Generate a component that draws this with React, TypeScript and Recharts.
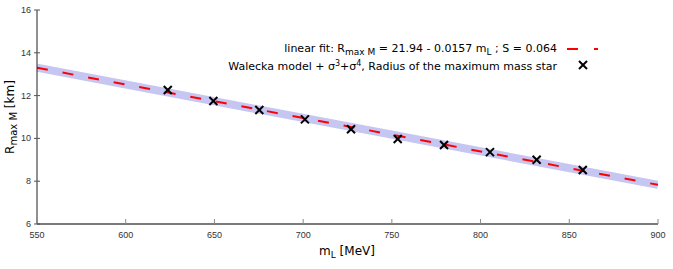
import React from "react";
import { ComposedChart, XAxis, YAxis, Line, Scatter } from "recharts";

const xTicks = [550, 600, 650, 700, 750, 800, 850, 900];
const yTicks = [6, 8, 10, 12, 14, 16];

const massL = [623.7, 649.4, 675.3, 701, 727, 753.3, 779.4, 805.3, 831.6, 857.6];
const radius = [12.26, 11.75, 11.33, 10.89, 10.43, 9.97, 9.69, 9.36, 9.0, 8.52];

const fitX = [550, 900];
const fitY = [13.3, 7.83];

const points = massL.map((x, i) => ({ x, y: radius[i] }));
const fitLine = fitX.map((x, i) => ({ x, y: fitY[i] }));

const FONT = "'DejaVu Sans', sans-serif";
const TICK_FONT = "'Liberation Sans', sans-serif";

const BottomTick = (p: any) => {
  const { x, y, payload } = p;
  return (
    <g>
      <line x1={x} x2={x} y1={y} y2={y - 5} stroke="#888" strokeWidth={1} />
      <text x={x} y={y + 14} textAnchor="middle" fontSize={9} fontFamily={TICK_FONT} fill="#333">
        {payload.value}
      </text>
    </g>
  );
};

const TopTick = (p: any) => {
  const { x, y } = p;
  return <line x1={x} x2={x} y1={y} y2={y + 5} stroke="#888" strokeWidth={1} />;
};

const LeftTick = (p: any) => {
  const { x, y, payload } = p;
  return (
    <g>
      <line x1={x - 3} x2={x + 3} y1={y} y2={y} stroke="#555" strokeWidth={1} />
      <text x={x - 6} y={y + 3} textAnchor="end" fontSize={9} fontFamily={TICK_FONT} fill="#333">
        {payload.value}
      </text>
    </g>
  );
};

const RightTick = (p: any) => {
  const { x, y } = p;
  return <line x1={x} x2={x - 5} y1={y} y2={y} stroke="#888" strokeWidth={1} />;
};

const XMark = (p: any) => {
  const { cx, cy } = p;
  const s = 4;
  return (
    <g stroke="#000" strokeWidth={2}>
      <line x1={cx - s} y1={cy - s} x2={cx + s} y2={cy + s} />
      <line x1={cx - s} y1={cy + s} x2={cx + s} y2={cy - s} />
    </g>
  );
};

export default function App() {
  return (
    <div style={{ position: "absolute", left: 0, top: 0, width: 673, height: 269, background: "#fff" }}>
      <ComposedChart width={673} height={269} margin={{ top: 10, right: 15, bottom: 0, left: 0 }}>
        <XAxis
          xAxisId="b"
          dataKey="x"
          type="number"
          domain={[550, 900]}
          ticks={xTicks}
          interval={0}
          allowDataOverflow
          height={45}
          tickSize={0}
          tickMargin={0}
          tickLine={false}
          tick={<BottomTick />}
          axisLine={{ stroke: "#7a7a7a", strokeWidth: 2 }}
        />
        <XAxis
          xAxisId="t"
          orientation="top"
          dataKey="x"
          type="number"
          domain={[550, 900]}
          ticks={xTicks}
          interval={0}
          allowDataOverflow
          height={0}
          tickSize={0}
          tickMargin={0}
          tickLine={false}
          tick={<TopTick />}
          axisLine={{ stroke: "#111", strokeWidth: 1 }}
        />
        <YAxis
          yAxisId="l"
          type="number"
          domain={[6, 16]}
          ticks={yTicks}
          interval={0}
          allowDataOverflow
          width={37}
          tickSize={0}
          tickMargin={0}
          tickLine={false}
          tick={<LeftTick />}
          axisLine={{ stroke: "#222", strokeWidth: 1 }}
        />
        <YAxis
          yAxisId="r"
          orientation="right"
          type="number"
          domain={[6, 16]}
          ticks={yTicks}
          interval={0}
          allowDataOverflow
          width={0}
          tickSize={0}
          tickMargin={0}
          tickLine={false}
          tick={<RightTick />}
          axisLine={{ stroke: "#7a7a7a", strokeWidth: 2 }}
        />
        <Line
          xAxisId="b"
          yAxisId="l"
          data={fitLine}
          dataKey="y"
          stroke="#c6c6f3"
          strokeWidth={8}
          dot={false}
          activeDot={false}
          isAnimationActive={false}
        />
        <Line
          xAxisId="b"
          yAxisId="l"
          data={fitLine}
          dataKey="y"
          stroke="#ff0000"
          strokeWidth={2}
          strokeDasharray="11 15"
          dot={false}
          activeDot={false}
          isAnimationActive={false}
        />
        <Scatter
          xAxisId="b"
          yAxisId="l"
          data={points}
          dataKey="y"
          shape={<XMark />}
          isAnimationActive={false}
        />
      </ComposedChart>
      <svg
        width={673}
        height={269}
        style={{ position: "absolute", left: 0, top: 0, pointerEvents: "none" }}
      >
        <text x={557} y={52} textAnchor="end" fontSize={11} fontFamily={FONT} fill="#000">
          linear fit: R<tspan dy={3} fontSize={9}>max M</tspan>
          <tspan dy={-3}> = 21.94 - 0.0157 m</tspan>
          <tspan dy={3} fontSize={9}>L</tspan>
          <tspan dy={-3}> ; S = 0.064</tspan>
        </text>
        <line x1={567} x2={598} y1={49} y2={49} stroke="#ff0000" strokeWidth={2} strokeDasharray="11 16" />
        <text x={557} y={70} textAnchor="end" fontSize={11} fontFamily={FONT} fill="#000">
          Walecka model + σ<tspan dy={-4} fontSize={8}>3</tspan>
          <tspan dy={4}>+σ</tspan>
          <tspan dy={-4} fontSize={8}>4</tspan>
          <tspan dy={4}>, Radius of the maximum mass star</tspan>
        </text>
        <g stroke="#000" strokeWidth={2}>
          <line x1={579} y1={61} x2={587} y2={69} />
          <line x1={579} y1={69} x2={587} y2={61} />
        </g>
        <text
          x={14}
          y={117}
          transform="rotate(-90 14 117)"
          textAnchor="middle"
          fontSize={12}
          fontFamily={FONT}
          fill="#000"
        >
          R<tspan dy={3} fontSize={10}>max M</tspan>
          <tspan dy={-3}> [km]</tspan>
        </text>
        <text x={347} y={255} textAnchor="middle" fontSize={12} fontFamily={FONT} fill="#000">
          m<tspan dy={3} fontSize={9}>L</tspan>
          <tspan dy={-3}> [MeV]</tspan>
        </text>
      </svg>
    </div>
  );
}
